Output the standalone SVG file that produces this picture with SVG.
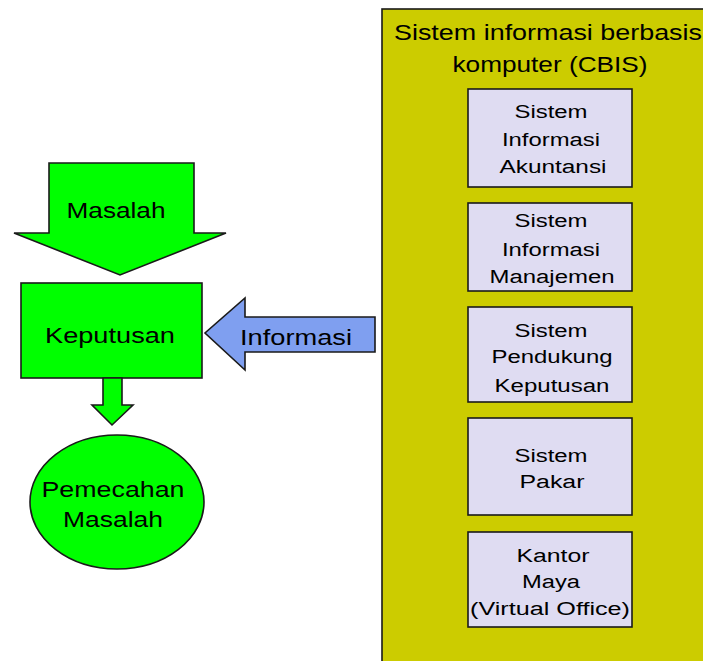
<svg xmlns="http://www.w3.org/2000/svg" width="703" height="661" viewBox="0 0 703 661">
  <style>
    .shape { stroke: #1a1a1a; stroke-width: 1.6; stroke-linejoin: miter; }
    .green { fill: #00ff00; }
    .blue { fill: #7f9ff0; }
    .panel { fill: #cccc00; }
    .card { fill: #dfdcf2; }
    text { font-family: "Liberation Sans", Arial, sans-serif; fill: #000; text-anchor: middle; }
    .big { font-size: 22px; }
    .small { font-size: 18px; }
  </style>
  <rect width="703" height="661" fill="#ffffff"/>

  <!-- CBIS container panel -->
  <g id="cbis">
    <rect class="shape panel" x="382" y="9" width="340" height="670"/>
    <text class="big" x="548" y="40" textLength="308" lengthAdjust="spacingAndGlyphs">Sistem informasi berbasis</text>
    <text class="big" x="550" y="72" textLength="195" lengthAdjust="spacingAndGlyphs">komputer (CBIS)</text>
  </g>

  <g id="sia">
    <rect class="shape card" x="468" y="89" width="164" height="98"/>
    <text class="small" x="551" y="118" textLength="73" lengthAdjust="spacingAndGlyphs">Sistem</text>
    <text class="small" x="551" y="146" textLength="98" lengthAdjust="spacingAndGlyphs">Informasi</text>
    <text class="small" x="553" y="173" textLength="107" lengthAdjust="spacingAndGlyphs">Akuntansi</text>
  </g>

  <g id="sim">
    <rect class="shape card" x="468" y="203" width="164" height="88"/>
    <text class="small" x="551" y="227" textLength="73" lengthAdjust="spacingAndGlyphs">Sistem</text>
    <text class="small" x="551" y="256" textLength="98" lengthAdjust="spacingAndGlyphs">Informasi</text>
    <text class="small" x="552" y="283" textLength="125" lengthAdjust="spacingAndGlyphs">Manajemen</text>
  </g>

  <g id="spk">
    <rect class="shape card" x="468" y="307" width="164" height="95"/>
    <text class="small" x="551" y="337" textLength="73" lengthAdjust="spacingAndGlyphs">Sistem</text>
    <text class="small" x="552" y="363" textLength="121" lengthAdjust="spacingAndGlyphs">Pendukung</text>
    <text class="small" x="552" y="392" textLength="115" lengthAdjust="spacingAndGlyphs">Keputusan</text>
  </g>

  <g id="pakar">
    <rect class="shape card" x="468" y="418" width="164" height="97"/>
    <text class="small" x="551" y="462" textLength="73" lengthAdjust="spacingAndGlyphs">Sistem</text>
    <text class="small" x="552" y="488" textLength="65" lengthAdjust="spacingAndGlyphs">Pakar</text>
  </g>

  <g id="kantor-maya">
    <rect class="shape card" x="468" y="532" width="164" height="95"/>
    <text class="small" x="553" y="562" textLength="73" lengthAdjust="spacingAndGlyphs">Kantor</text>
    <text class="small" x="551" y="588" textLength="58" lengthAdjust="spacingAndGlyphs">Maya</text>
    <text class="small" x="550" y="615" textLength="160" lengthAdjust="spacingAndGlyphs">(Virtual Office)</text>
  </g>

  <!-- Problem input arrow -->
  <g id="masalah">
    <polygon class="shape green" points="49,163 194,163 194,233 226,233 120,275 14,233 49,233"/>
    <text class="big" x="116" y="218" textLength="99" lengthAdjust="spacingAndGlyphs">Masalah</text>
  </g>

  <g id="keputusan">
    <rect class="shape green" x="21" y="283" width="181" height="95"/>
    <text class="big" x="110" y="343" textLength="130" lengthAdjust="spacingAndGlyphs">Keputusan</text>
  </g>

  <g id="pemecahan">
    <ellipse class="shape green" cx="117" cy="502" rx="87" ry="67"/>
    <text class="big" x="113" y="497" textLength="143" lengthAdjust="spacingAndGlyphs">Pemecahan</text>
    <text class="big" x="113" y="527" textLength="100" lengthAdjust="spacingAndGlyphs">Masalah</text>
  </g>

  <!-- Connectors -->
  <g id="connectors">
    <polygon class="shape green" points="103,378 122,378 122,405 133,405 112,425 92,405 103,405"/>
    <polygon class="shape blue" points="375,317 375,352 245,352 245,370 205,333 245,298 245,317"/>
    <text class="big" x="296" y="345" textLength="112" lengthAdjust="spacingAndGlyphs">Informasi</text>
  </g>
</svg>
